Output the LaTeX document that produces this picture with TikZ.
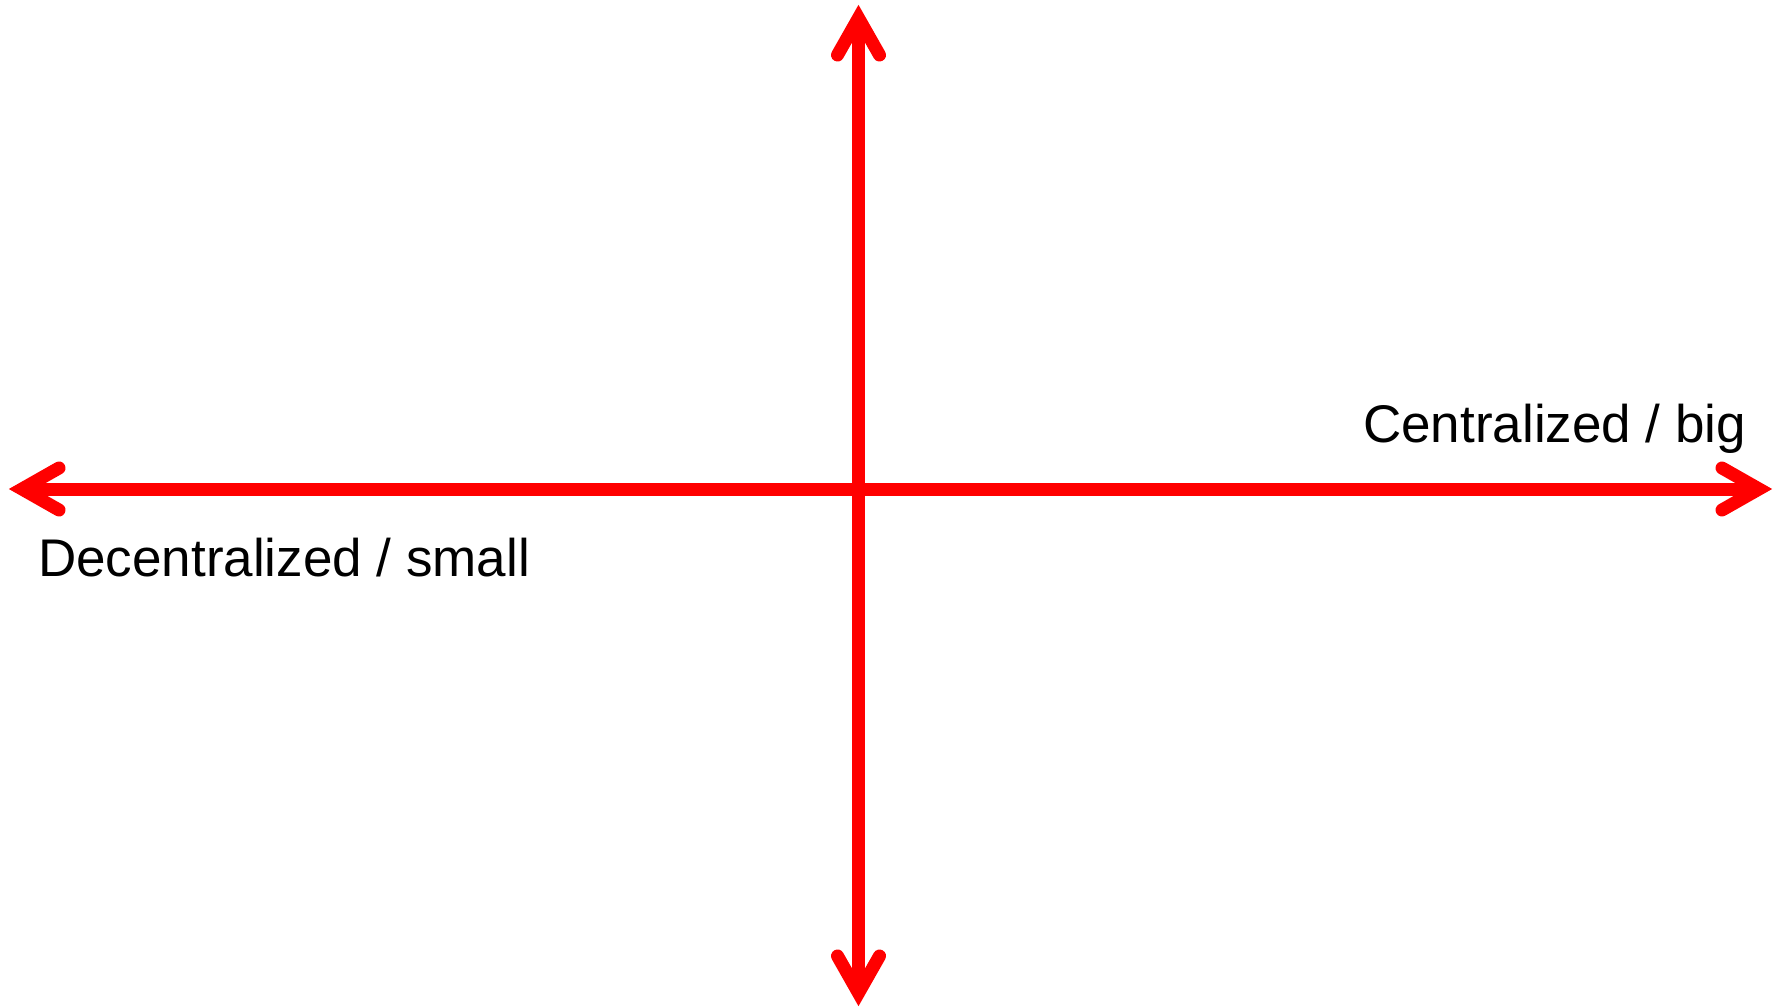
\documentclass[tikz,border=0pt]{standalone}
\usepackage{fontspec}
\setmainfont{Liberation Sans}
\begin{document}
\begin{tikzpicture}[x=1pt,y=-1pt,
  axisline/.style={draw=red, line width=13pt},
  headline/.style={draw=red, line width=13pt, line cap=round, line join=miter, miter limit=10},
  lbl/.style={inner sep=0pt, anchor=base west, font=\fontsize{53}{60}\selectfont}]
\useasboundingbox (0,0) rectangle (1781,1008);
% vertices of the arrow heads
\coordinate (T) at (858.5,18);
\coordinate (B) at (858.5,993);
\coordinate (L) at (22,489);
\coordinate (R) at (1759,489);
% axes
\draw[axisline] (L) -- (R);
\draw[axisline] (T) -- (B);
% heads
\draw[headline] ([xshift=-21pt,yshift=-37pt]T) -- (T) -- ([xshift=21pt,yshift=-37pt]T);
\draw[headline] ([xshift=-21pt,yshift=37pt]B) -- (B) -- ([xshift=21pt,yshift=37pt]B);
\draw[headline] ([xshift=37pt,yshift=-21pt]L) -- (L) -- ([xshift=37pt,yshift=21pt]L);
\draw[headline] ([xshift=-37pt,yshift=-21pt]R) -- (R) -- ([xshift=-37pt,yshift=21pt]R);
% labels
\node[lbl] (dec) at (38,576) {Decentralized / small};
\node[lbl] (cen) at (1363,442) {Centralized / big};
\end{tikzpicture}
\end{document}
